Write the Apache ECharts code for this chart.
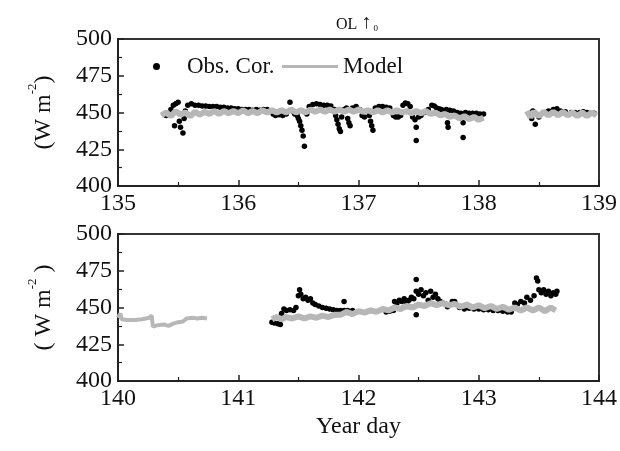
<!DOCTYPE html>
<html><head><meta charset="utf-8">
<script src="https://cdn.jsdelivr.net/npm/echarts@6/dist/echarts.min.js"></script>
<style>html,body{margin:0;padding:0;background:#fff}#c{width:620px;height:451px}</style>
</head><body><div id="c"></div>
<script>
const titleText = 'OL ↑';
const yTicks = [400, 425, 450, 475, 500];
const xTicksTop = [135, 136, 137, 138, 139];
const xTicksBottom = [140, 141, 142, 143, 144];

const obsTop = [[135.40,448],[135.42,449],[135.44,452],[135.46,455],[135.47,441],[135.48,456],[135.50,457],[135.51,444],[135.52,440],[135.53,449],[135.54,436],[135.55,446],[135.56,451],[135.58,455],[135.61,456],[135.64,455],[135.67,455],[135.70,454.5],[135.73,454.5],[135.76,454],[135.79,454],[135.82,454],[135.85,453.5],[135.88,453.5],[135.91,453],[135.94,453],[135.97,452.5],[136.00,452.5],[136.03,452],[136.06,452],[136.09,452],[136.12,451.5],[136.15,452],[136.18,451.5],[136.21,452],[136.24,452],[136.27,451],[136.29,449],[136.31,448],[136.34,448.5],[136.37,448],[136.40,449],[136.43,457],[136.45,451],[136.47,449],[136.49,448],[136.50,446],[136.51,444],[136.52,441],[136.53,438],[136.55,427],[136.54,434],[136.57,449],[136.59,454],[136.62,455.5],[136.65,456],[136.68,455.5],[136.71,455],[136.74,455],[136.77,454.5],[136.80,452],[136.81,448],[136.82,445],[136.83,442],[136.84,439],[136.85,437],[136.86,447],[136.88,452],[136.90,453],[136.91,446],[136.92,443],[136.93,441],[136.95,453],[136.98,454],[137.01,452],[137.03,448],[137.05,447],[137.07,451],[137.09,448],[137.10,444],[137.11,441],[137.12,438],[137.14,453],[137.17,454],[137.20,454],[137.23,453.5],[137.26,453],[137.29,448],[137.31,447],[137.33,447],[137.35,448],[137.37,455],[137.39,456.5],[137.41,456],[137.43,454],[137.45,447],[137.47,445],[137.48,440],[137.48,431],[137.50,447],[137.52,448],[137.55,450],[137.58,452],[137.61,455],[137.63,454.5],[137.65,453],[137.67,452.5],[137.69,452],[137.71,451],[137.73,452],[137.74,443],[137.745,440],[137.76,451.5],[137.79,451],[137.82,450],[137.85,449.5],[137.87,443],[137.87,433],[137.89,450],[137.92,449.5],[137.95,449.5],[137.98,449.5],[138.01,449],[138.04,449],
[138.43,449],[138.44,446],[138.45,451],[138.47,442],[138.50,447],[138.55,450],[138.58,451],[138.62,452],[138.65,452.5],[138.68,451],[138.72,450.5],[138.77,450],[138.80,450],[138.84,450],[138.87,450.5],[138.90,450],[138.93,449.5],[138.96,449.5]];

const modelTopA = [[135.36,448],[135.40,450],[135.44,447.5],[135.48,451],[135.52,448.5],[135.56,450],[135.60,447.5],[135.64,450.5],[135.68,448.5],[135.72,450.5],[135.76,449],[135.80,451],[135.84,449],[135.88,451],[135.92,449.5],[135.96,451],[136.00,449.5],[136.04,451.5],[136.08,449.5],[136.12,451],[136.16,449.5],[136.20,451.5],[136.24,450],[136.28,451.5],[136.32,450],[136.36,451.5],[136.40,450],[136.44,452],[136.48,450],[136.52,451.5],[136.56,450],[136.60,452],[136.64,450.5],[136.68,452],[136.72,450.5],[136.76,452],[136.80,450.5],[136.84,452],[136.88,450.5],[136.92,452],[136.96,450.5],[137.00,452],[137.04,450.5],[137.08,451.5],[137.12,450],[137.16,451.5],[137.20,450],[137.24,451.5],[137.28,450],[137.32,451.5],[137.36,450],[137.40,451],[137.44,449.5],[137.48,451],[137.52,449.5],[137.56,451],[137.60,449],[137.64,450],[137.68,448],[137.72,449],[137.76,447],[137.80,448],[137.84,446],[137.88,447.5],[137.92,445.5],[137.96,447],[138.00,445],[138.04,446.5]];
const modelTopB = [[138.40,451],[138.43,447],[138.46,450.5],[138.50,447.5],[138.54,450.5],[138.58,448],[138.62,450.5],[138.66,448],[138.70,450.5],[138.74,448],[138.78,450],[138.82,447.5],[138.86,450],[138.90,447.5],[138.94,450],[138.98,448]];

const obsBottom = [[141.28,440],[141.30,439.5],[141.33,439],[141.35,438.5],[141.36,446],[141.38,449],[141.40,448],[141.43,448.5],[141.46,448],[141.48,450],[141.50,458],[141.51,462],[141.52,459],[141.54,456],[141.56,457],[141.58,455],[141.60,456],[141.62,453],[141.64,452],[141.67,451],[141.70,450],[141.73,449.5],[141.76,449],[141.79,448.5],[141.82,448],[141.85,448],[141.88,454],[141.88,448],[141.91,448],[141.95,448],
[142.23,447],[142.26,447.5],[142.29,448],[142.30,454],[142.32,453],[142.34,455],[142.36,454],[142.38,456],[142.40,453],[142.42,455],[142.44,457],[142.46,456],[142.48,469],[142.48,461],[142.48,445],[142.50,459],[142.52,462],[142.54,458],[142.56,460],[142.58,455],[142.60,461],[142.62,457],[142.64,459],[142.66,456],[142.68,454],[142.70,453],[142.72,452.5],[142.74,450.5],[142.78,454],[142.80,454],[142.84,450],[142.88,449],[142.92,449.5],[142.96,449],[143.00,449],[143.04,448.5],[143.08,448.5],[143.12,448],[143.16,448],[143.20,447.5],[143.24,447],[143.27,447],[143.30,453],[143.32,452],[143.35,454],[143.38,453],[143.40,457],[143.43,455],[143.46,458],[143.48,470],[143.49,468],[143.50,462],[143.52,460],[143.54,462],[143.56,459],[143.58,461],[143.60,458],[143.62,460],[143.64,459],[143.65,461]];

const modelBottomA = [[140.00,443],[140.02,446],[140.03,442],[140.08,441.5],[140.14,441.5],[140.20,442],[140.26,443],[140.28,444.5],[140.29,437],[140.33,438],[140.38,438.5],[140.42,437.5],[140.46,439],[140.50,440],[140.54,440.5],[140.57,442.5],[140.62,443],[140.66,442.5],[140.70,443],[140.74,442.5]];
const modelBottomB = [[141.28,442],[141.32,443.5],[141.36,442],[141.40,443.5],[141.45,442.5],[141.50,444],[141.55,442.5],[141.60,444],[141.65,443],[141.70,444.5],[141.75,443.5],[141.80,445],[141.85,445],[141.90,447],[141.95,445.5],[142.00,447.5],[142.05,446.5],[142.10,448],[142.15,447],[142.20,449],[142.25,448],[142.30,450],[142.35,449],[142.40,451],[142.45,450],[142.50,452],[142.55,451],[142.60,453],[142.65,451.5],[142.70,453],[142.75,451.5],[142.80,452.5],[142.85,450.5],[142.90,452],[142.95,450],[143.00,451.5],[143.05,449.5],[143.10,451],[143.15,449],[143.20,450.5],[143.25,448.5],[143.30,450],[143.35,448],[143.40,450],[143.45,448],[143.50,450],[143.55,447.5],[143.60,450],[143.64,448]];

const chart = echarts.init(document.getElementById('c'), null, {renderer:'canvas'});
const FONT = 'Liberation Serif';
const GRAY = '#b7b7b7';
function yAxis(gi, name){
  return {type:'value', gridIndex:gi, min:yTicks[0], max:yTicks[yTicks.length-1], interval:25,
    name:name, nameLocation:'middle', nameRotate:90, nameGap:62,
    nameTextStyle:{fontFamily:FONT, color:'#111', rich:{
      a:{fontFamily:FONT,fontSize:24,color:'#111',lineHeight:30,verticalAlign:'bottom'},
      s:{fontFamily:FONT,fontSize:13,color:'#111',lineHeight:30,verticalAlign:'top'}}},
    axisLine:{show:true,lineStyle:{color:'#222',width:2}},
    axisTick:{show:true,inside:true,length:6,lineStyle:{color:'#222',width:1.5}},
    minorTick:{show:true,splitNumber:2,length:4,lineStyle:{color:'#222',width:1.2}},
    splitLine:{show:false},
    axisLabel:{fontFamily:FONT,fontSize:24,color:'#111',margin:6}};
}
function xAxis(gi, ticks, name){
  return {type:'value', gridIndex:gi, min:ticks[0], max:ticks[ticks.length-1], interval:1,
    name:name||'', nameLocation:'middle', nameGap:34,
    nameTextStyle:{fontFamily:FONT,fontSize:24,color:'#111'},
    axisLine:{show:true,onZero:false,lineStyle:{color:'#222',width:2}},
    axisTick:{show:true,inside:true,length:6,lineStyle:{color:'#222',width:1.5}},
    minorTick:{show:true,splitNumber:2,length:4,lineStyle:{color:'#222',width:1.2}},
    splitLine:{show:false},
    axisLabel:{fontFamily:FONT,fontSize:24,color:'#111',margin:6}};
}
const obsStyle = {color:'#000', opacity:1};
chart.setOption({
  animation:false,
  backgroundColor:'#fff',
  title:{text:'{a|OL }{b|↑}{s| 0}', left:352, top:6, textAlign:'center',
    textStyle:{fontWeight:'normal', rich:{
      a:{fontFamily:FONT,fontSize:16,fontWeight:'normal',color:'#111',lineHeight:22,verticalAlign:'bottom'},
      b:{fontFamily:FONT,fontSize:20,fontWeight:'normal',color:'#111',lineHeight:22,verticalAlign:'bottom'},
      s:{fontFamily:FONT,fontSize:9,fontWeight:'normal',color:'#111',lineHeight:22,verticalAlign:'bottom'}}}},
  legend:[
    {data:[{name:'Obs. Cor.',icon:'circle'}], left:148, top:50, itemWidth:7, itemHeight:7,
     textStyle:{fontFamily:FONT,fontSize:23,color:'#111',padding:[0,0,0,22]}},
    {data:[{name:'Model',icon:'rect'}], left:277, top:50, itemWidth:56, itemHeight:3,
     textStyle:{fontFamily:FONT,fontSize:23,color:'#111'}}
  ],
  grid:[
    {left:118, top:39, width:483, height:147, show:true, borderColor:'#333', borderWidth:2},
    {left:118, top:234, width:483, height:147, show:true, borderColor:'#333', borderWidth:2}
  ],
  xAxis:[xAxis(0,xTicksTop), xAxis(1,xTicksBottom,'Year day')],
  yAxis:[yAxis(0,'{a|(W m}{s|-2}{a|)}'), yAxis(1,'{a|( W m}{s|-2}{a| )}')],
  series:[
    {name:'Obs. Cor.', type:'scatter', xAxisIndex:0, yAxisIndex:0, data:obsTop, symbolSize:5.5, itemStyle:obsStyle, z:2},
    {name:'Model', type:'line', xAxisIndex:0, yAxisIndex:0, data:modelTopA, showSymbol:false, lineStyle:{color:GRAY,width:6}, itemStyle:{color:GRAY}, z:3},
    {name:'Model', type:'line', xAxisIndex:0, yAxisIndex:0, data:modelTopB, showSymbol:false, lineStyle:{color:GRAY,width:6}, itemStyle:{color:GRAY}, z:3},
    {name:'Obs. Cor.', type:'scatter', xAxisIndex:1, yAxisIndex:1, data:obsBottom, symbolSize:5.5, itemStyle:obsStyle, z:2},
    {name:'Model', type:'line', xAxisIndex:1, yAxisIndex:1, data:modelBottomA, showSymbol:false, lineStyle:{color:GRAY,width:4}, itemStyle:{color:GRAY}, z:3},
    {name:'Model', type:'line', xAxisIndex:1, yAxisIndex:1, data:modelBottomB, showSymbol:false, lineStyle:{color:GRAY,width:6}, itemStyle:{color:GRAY}, z:3}
  ]
});
</script></body></html>
